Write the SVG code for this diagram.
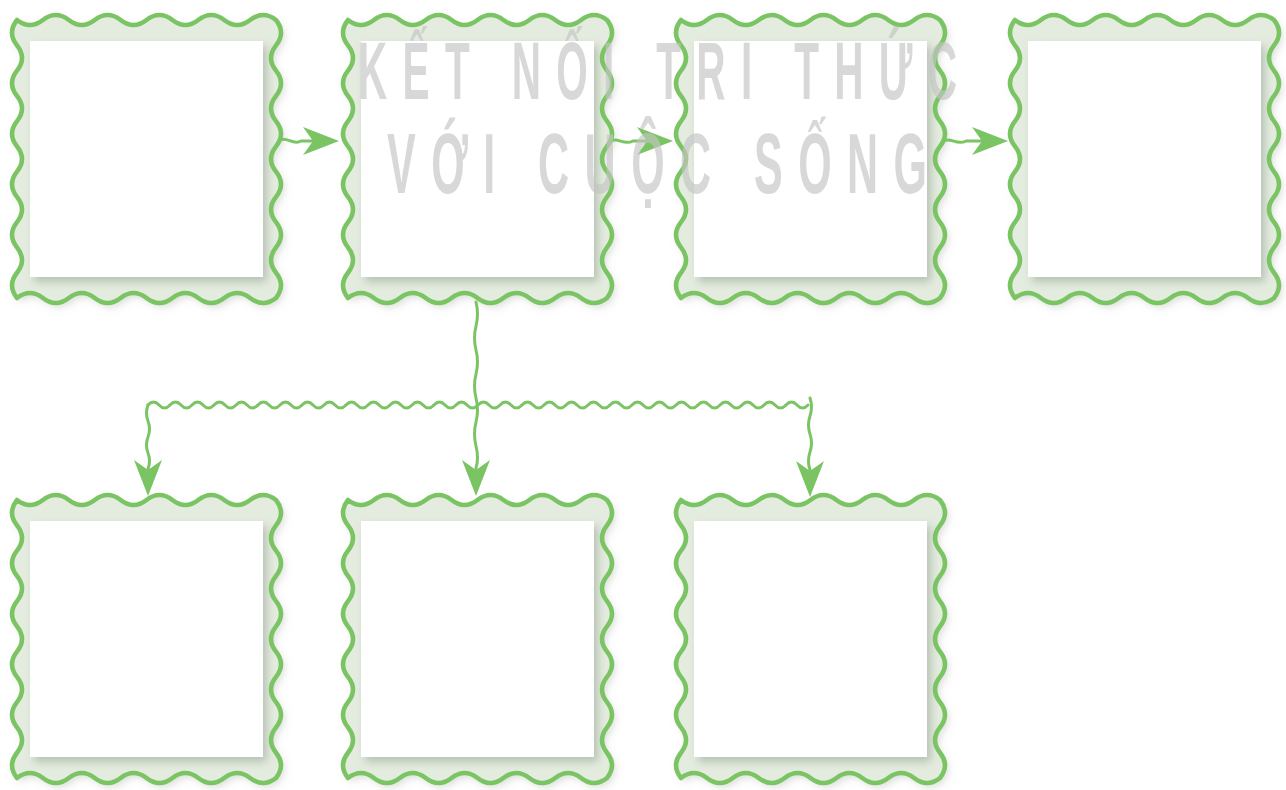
<svg xmlns="http://www.w3.org/2000/svg" width="1286" height="790" viewBox="0 0 1286 790">
<style>
.band{fill:#e3ecdf;filter:url(#outer)}
.edge{fill:none;stroke:#7bc464;stroke-width:4.5;stroke-linejoin:round}
.inner{fill:#ffffff;filter:url(#innerSh)}
.conn{fill:none;stroke:#7bc464;stroke-width:3;stroke-linecap:round;stroke-linejoin:round}
.wm{font-family:"Liberation Sans",Arial,sans-serif;font-weight:700;fill:#c4c4c4;opacity:0.65}
</style>
<defs>
<filter id="outer" x="-10%" y="-10%" width="125%" height="125%">
<feDropShadow dx="3" dy="4" stdDeviation="4" flood-color="#7a8a78" flood-opacity="0.3"/>
</filter>
<filter id="innerSh" x="-10%" y="-10%" width="130%" height="130%">
<feDropShadow dx="4" dy="5" stdDeviation="4" flood-color="#8c9a88" flood-opacity="0.5"/>
</filter>
<marker id="ah" viewBox="0 0 36 28" refX="10" refY="14" markerWidth="36" markerHeight="28" markerUnits="userSpaceOnUse" orient="auto">
<path d="M0,0 L36,14 L0,28 L10,14 Z" fill="#7bc464"/>
</marker>
<path id="frame" d="M0,0 q12.95,10 25.9,0 t25.9,0 t25.9,0 t25.9,0 t25.9,0 t25.9,0 t25.9,0 t25.9,0 t25.9,0 t25.9,0 q10,12.636 0,25.273 t0,25.273 t0,25.273 t0,25.273 t0,25.273 t0,25.273 t0,25.273 t0,25.273 t0,25.273 t0,25.273 t0,25.273 q-12.95,10 -25.9,0 t-25.9,0 t-25.9,0 t-25.9,0 t-25.9,0 t-25.9,0 t-25.9,0 t-25.9,0 t-25.9,0 t-25.9,0 q-10,-12.636 0,-25.273 t0,-25.273 t0,-25.273 t0,-25.273 t0,-25.273 t0,-25.273 t0,-25.273 t0,-25.273 t0,-25.273 t0,-25.273 t0,-25.273 Z"/>
<g id="box">
<use href="#frame" class="band"/>
<rect class="inner" x="13" y="21" width="233" height="236"/>
<use href="#frame" class="edge"/>
</g>
</defs>
<rect width="1286" height="790" fill="#ffffff"/>
<g id="node1" transform="translate(17,20)"><use href="#box"/></g>
<g id="node2" transform="translate(348,20)"><use href="#box"/></g>
<g id="node3" transform="translate(681,20)"><use href="#box"/></g>
<g id="node4" transform="translate(1015,20)"><use href="#box"/></g>
<g id="node5" transform="translate(17,500)"><use href="#box"/></g>
<g id="node6" transform="translate(348,500)"><use href="#box"/></g>
<g id="node7" transform="translate(681,500)"><use href="#box"/></g>
<g id="connectors" class="conn">
<path d="M280,140 C287,136 293,146 301,141 L313,141" marker-end="url(#ah)"/>
<path d="M611,141 C618,137 624,146 633,141 L647,141" marker-end="url(#ah)"/>
<path d="M944,141 C951,137 957,146 966,141 L982,141" marker-end="url(#ah)"/>
<path d="M476,302 q3,12 0,24 t0,24 t0,24 t0,24 t0,24 t0,24 t0,22 L476,470" marker-end="url(#ah)"/>
<path d="M148,405 q5.5,-6 11,0 t11,0 t11,0 t11,0 t11,0 t11,0 t11,0 t11,0 t11,0 t11,0 t11,0 t11,0 t11,0 t11,0 t11,0 t11,0 t11,0 t11,0 t11,0 t11,0 t11,0 t11,0 t11,0 t11,0 t11,0 t11,0 t11,0 t11,0 t11,0 t11,0 t11,0 t11,0 t11,0 t11,0 t11,0 t11,0 t11,0 t11,0 t11,0 t11,0 t11,0 t11,0 t11,0 t11,0 t11,0 t11,0 t11,0 t11,0 t11,0 t11,0 t11,0 t11,0 t11,0 t11,0 t11,0 t11,0 t11,0 t11,0 t11,0 t11,0"/>
<path d="M148,405 q-3,8 0,16 t0,16 t0,16 t0,16 L148,470" marker-end="url(#ah)"/>
<path d="M810,398 q3,9 0,18 t0,18 t0,18 t0,18 L810,471" marker-end="url(#ah)"/>
</g>
<g id="watermark" class="wm">
<text transform="translate(358,99) scale(0.5,1)" font-size="81" textLength="1198" lengthAdjust="spacing">KẾT NỐI TRI THỨC</text>
<text transform="translate(387,193) scale(0.5,1)" font-size="86" textLength="1080" lengthAdjust="spacing">VỚI CUỘC SỐNG</text>
</g>
</svg>
